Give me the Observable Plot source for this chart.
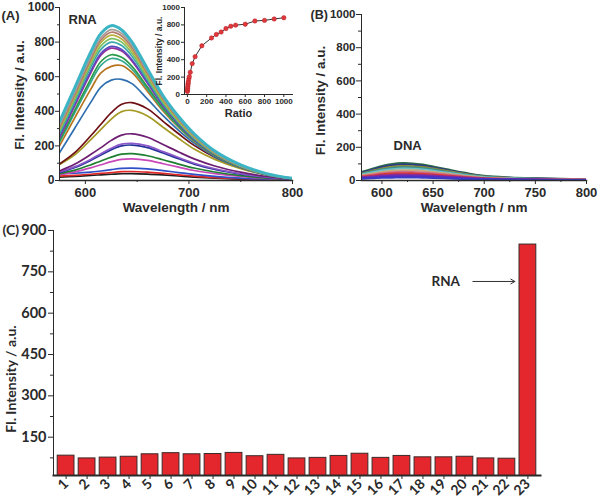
<!DOCTYPE html>
<html><head><meta charset="utf-8">
<script src="https://cdn.jsdelivr.net/npm/d3@7"></script>
<script src="https://cdn.jsdelivr.net/npm/@observablehq/plot@0.6"></script>
<style>
html,body{margin:0;padding:0;background:#fff;}
#fig{position:relative;width:600px;height:503px;overflow:hidden;background:#fff;}
#fig svg{position:absolute;}
</style></head><body><div id="fig"></div>
<script>
// ---------- Panel A: RNA titration spectra ----------
const wavelengthsA = [575, 590, 605, 615, 625, 635, 645, 660, 675, 690, 705, 725, 750, 775, 800];
const rnaSpectra = [
  [340, 540, 740, 850, 895, 870, 800, 645, 490, 370, 270, 170, 90, 40, 12],
  [320, 515, 715, 825, 872, 850, 780, 630, 480, 360, 262, 165, 87, 38, 12],
  [305, 500, 700, 812, 857, 835, 768, 620, 472, 354, 258, 162, 85, 37, 11],
  [295, 490, 688, 798, 840, 818, 752, 608, 463, 347, 253, 159, 83, 36, 11],
  [285, 475, 670, 778, 820, 800, 735, 594, 453, 340, 248, 156, 82, 36, 11],
  [270, 460, 652, 758, 800, 780, 718, 581, 444, 334, 244, 154, 81, 35, 11],
  [255, 445, 630, 735, 775, 757, 698, 567, 435, 328, 240, 152, 80, 35, 11],
  [245, 435, 620, 725, 765, 748, 690, 562, 432, 326, 238, 151, 80, 35, 11],
  [230, 410, 585, 688, 727, 712, 660, 540, 418, 317, 233, 148, 78, 34, 10],
  [220, 395, 565, 665, 705, 692, 643, 528, 410, 312, 230, 146, 77, 34, 10],
  [200, 365, 525, 622, 660, 665, 625, 515, 402, 307, 227, 144, 76, 33, 10],
  [160, 305, 450, 540, 580, 585, 560, 470, 375, 290, 216, 138, 74, 32, 10],
  [95, 162, 257, 325, 392, 441, 450, 414, 342, 270, 203, 135, 77, 36, 13],
  [92, 150, 235, 295, 355, 398, 405, 373, 308, 243, 182, 122, 69, 32, 12],
  [55, 95, 150, 190, 232, 262, 270, 250, 208, 165, 125, 84, 48, 23, 9],
  [50, 80, 122, 155, 187, 210, 215, 200, 167, 133, 100, 68, 39, 19, 7],
  [45, 75, 116, 147, 178, 200, 205, 190, 159, 126, 95, 64, 37, 18, 7],
  [40, 60, 90, 113, 135, 152, 155, 143, 120, 95, 72, 49, 28, 14, 6],
  [35, 50, 73, 91, 109, 122, 125, 116, 97, 77, 58, 40, 23, 11, 5],
  [40, 42, 48, 55, 63, 70, 72, 67, 57, 46, 35, 24, 14, 7, 3],
  [25, 30, 36, 41, 46, 51, 52, 48, 41, 33, 25, 17, 10, 5, 2],
  [20, 24, 29, 33, 36, 39, 40, 37, 32, 26, 20, 14, 8, 4, 2]
];
const rnaColors = ["#3cb4c4", "#a89c98", "#b07a6c", "#bcae3c", "#7cc060", "#3aa8a8", "#5a4cc0",
  "#9a2f9a", "#2a9a48", "#36a88e", "#b8741e", "#2f6fb0", "#6e0f14", "#a59a24", "#6e1e72",
  "#8a58c8", "#24339a", "#1f7f30", "#c848b8", "#3050c8", "#e02828", "#1e1e1e"];
const aXTicks = [600, 700, 800];
const aXMinor = [650, 750];
const aYTicks = [0, 200, 400, 600, 800, 1000];
const aYMinor = [100, 300, 500, 700, 900];

// ---------- Inset: intensity vs ratio ----------
const ratios = [0, 1, 2, 4, 6, 8, 10, 15, 20, 30, 50, 80, 150, 250, 300, 350, 400, 450, 500, 600, 700, 800, 900, 1000];
const ratioIntensity = [35, 50, 70, 90, 110, 130, 150, 180, 205, 255, 355, 435, 560, 650, 690, 718, 758, 785, 797, 808, 845, 852, 868, 882];
const insetTicks = [0, 200, 400, 600, 800, 1000];

// ---------- Panel B: DNA spectra ----------
const wavelengthsB = [580, 590, 600, 610, 620, 630, 640, 650, 665, 680, 700, 725, 750, 775, 800];
const dnaSpectra = [
  [52, 70, 88, 100, 105, 103, 96, 85, 66, 48, 28, 18, 13, 10, 8],
  [48, 64, 81, 92, 97, 95, 89, 79, 61, 44, 26, 16, 12, 9, 7],
  [43, 58, 73, 83, 88, 86, 81, 72, 56, 40, 24, 15, 11, 8, 7],
  [40, 53, 67, 76, 80, 79, 74, 66, 51, 37, 22, 14, 10, 8, 6],
  [36, 48, 60, 68, 72, 71, 67, 59, 46, 33, 20, 13, 9, 7, 6],
  [31, 41, 52, 59, 62, 61, 58, 51, 40, 29, 17, 11, 8, 6, 5],
  [27, 35, 44, 50, 52, 51, 48, 43, 34, 25, 15, 10, 7, 6, 5],
  [23, 30, 37, 42, 44, 43, 41, 36, 29, 21, 13, 9, 7, 5, 4],
  [20, 25, 31, 34, 36, 35, 33, 30, 24, 18, 11, 8, 6, 5, 4],
  [17, 21, 26, 29, 30, 29, 28, 25, 20, 15, 10, 7, 5, 4, 3],
  [14, 17, 21, 23, 24, 23, 22, 20, 16, 12, 8, 6, 4, 3, 3],
  [11, 13, 16, 17, 18, 18, 17, 15, 12, 9, 6, 5, 4, 3, 3]
];
const dnaColors = ["#2d6b45", "#2a3c8a", "#8c8a36", "#3a8f8a", "#6cc0c8", "#c8a878",
  "#d06a8a", "#d83a30", "#9a2a8a", "#6a30b0", "#5a28c0", "#3a3ac8"];
const bXTicks = [600, 650, 700, 750, 800];
const bXMinor = [625, 675, 725, 775];
const bYTicks = [0, 200, 400, 600, 800, 1000];
const bYMinor = [100, 300, 500, 700, 900];

// ---------- Panel C: selectivity bars ----------
const sampleLabels = ["1","2","3","4","5","6","7","8","9","10","11","12","13","14","15","16","17","18","19","20","21","22","23"];
const sampleIntensity = [83, 73, 76, 79, 88, 92, 88, 89, 93, 81, 86, 73, 75, 82, 90, 75, 82, 77, 77, 79, 73, 72, 849];
const cYTicks = [150, 300, 450, 600, 750, 900];
const cYMinor = [75, 225, 375, 525, 675, 825];

// ---------- build ----------
const fig = document.getElementById("fig");
const arial = "'Liberation Sans', Arial, sans-serif";
const lato = "Lato, 'Open Sans', sans-serif";
const ink = "#2a2a2a";
function place(svg, left, top) {
  svg.style.position = "absolute";
  svg.style.left = left + "px";
  svg.style.top = top + "px";
  svg.style.background = "transparent";
  svg.style.overflow = "visible";
  svg.style.maxWidth = "none";
  fig.appendChild(svg);
}
const noText = () => "";
const plain = d => String(d);

// Panel A
const tidyA = rnaSpectra.flatMap((vals, i) => vals.map((v, j) => ({curve: i, wl: wavelengthsA[j], v, color: rnaColors[i]})));
const A = Plot.plot({
  width: 300, height: 215, marginLeft: 59, marginRight: 8, marginTop: 7, marginBottom: 35,
  x: {domain: [575, 800], label: null},
  y: {domain: [0, 1000], label: null},
  color: {type: "identity"},
  style: {fontFamily: arial, fontWeight: "bold", fontSize: "12px", color: ink},
  marks: [
    Plot.line(tidyA.filter(d => d.curve > 0).reverse(), {x: "wl", y: "v", z: "curve", stroke: "color", strokeWidth: 1.7, curve: "catmull-rom", clip: true}),
    Plot.line(tidyA.filter(d => d.curve === 0), {x: "wl", y: "v", z: "curve", stroke: "color", strokeWidth: 3, curve: "catmull-rom", clip: true}),
    Plot.frame({anchor: "left", stroke: ink}),
    Plot.frame({anchor: "bottom", stroke: ink, strokeWidth: 1.5}),
    Plot.axisY({ticks: aYTicks, tickSize: 4, tickPadding: 1, fontSize: 12, tickFormat: plain, label: null}),
    Plot.axisY({ticks: aYMinor, tickSize: 2, tickFormat: noText, label: null}),
    Plot.axisX({ticks: aXTicks, tickSize: 4, tickPadding: 3, fontSize: 13, tickFormat: plain, label: null}),
    Plot.axisX({ticks: aXMinor, tickSize: 2, tickFormat: noText, label: null}),
    Plot.text(["Wavelength / nm"], {text: d => d, frameAnchor: "bottom", lineAnchor: "middle", dy: 27, fontSize: 13.5}),
    Plot.text(["Fl. Intensity / a.u."], {text: d => d, frameAnchor: "left", textAnchor: "middle", lineAnchor: "middle", rotate: -90, dx: -40, dy: 1, fontSize: 13.5}),
    Plot.text(["(A)"], {text: d => d, frameAnchor: "top-left", lineAnchor: "middle", dx: -58, dy: 8, textAnchor: "start", fontSize: 13}),
    Plot.text(["RNA"], {text: d => d, frameAnchor: "top-left", lineAnchor: "middle", dx: 9, dy: 12, textAnchor: "start", fontSize: 13})
  ]
});
place(A, 0, 0);

// Inset
const insetData = ratios.map((r, i) => ({r, v: ratioIntensity[i]}));
const inset = Plot.plot({
  width: 145, height: 118, marginLeft: 29, marginRight: 8, marginTop: 7, marginBottom: 24,
  x: {domain: [-30, 1090], label: null},
  y: {domain: [0, 1000], label: null},
  style: {fontFamily: arial, fontWeight: "bold", fontSize: "8px", color: ink},
  marks: [
    Plot.frame({anchor: "left", stroke: ink}),
    Plot.frame({anchor: "bottom", stroke: ink}),
    Plot.axisY({ticks: insetTicks, tickSize: 3, tickPadding: 1.5, fontSize: 8, tickFormat: plain, label: null}),
    Plot.axisX({ticks: insetTicks, tickSize: 3, tickPadding: 1, fontSize: 8, tickFormat: plain, label: null}),
    Plot.line(insetData, {x: "r", y: "v", stroke: "#333", strokeWidth: 1}),
    Plot.dot(insetData, {x: "r", y: "v", r: 2.2, fill: "#e0383c", stroke: "#b32025", strokeWidth: 0.5}),
    Plot.text(["Ratio"], {text: d => d, frameAnchor: "bottom", lineAnchor: "middle", dy: 18.5, fontSize: 11}),
    Plot.text(["Fl. Intensity / a.u."], {text: d => d, frameAnchor: "left", textAnchor: "middle", lineAnchor: "middle", rotate: -90, dx: -25, fontSize: 8.5})
  ]
});
place(inset, 155, 0);

// Panel B
const tidyB = dnaSpectra.flatMap((vals, i) => vals.map((v, j) => ({curve: i, wl: wavelengthsB[j], v, color: dnaColors[i]})));
const B = Plot.plot({
  width: 300, height: 215, marginLeft: 61, marginRight: 14, marginTop: 14, marginBottom: 35,
  x: {domain: [580, 800], label: null},
  y: {domain: [0, 1000], label: null},
  color: {type: "identity"},
  style: {fontFamily: arial, fontWeight: "bold", fontSize: "11.5px", color: ink},
  marks: [
    Plot.line(tidyB, {x: "wl", y: "v", z: "curve", stroke: "color", strokeWidth: 2, curve: "catmull-rom", clip: true}),
    Plot.frame({anchor: "left", stroke: ink}),
    Plot.frame({anchor: "bottom", stroke: ink, strokeWidth: 1.5}),
    Plot.axisY({ticks: bYTicks, tickSize: 5, tickPadding: 1, fontSize: 11.5, tickFormat: plain, label: null}),
    Plot.axisY({ticks: bYMinor, tickSize: 3, tickFormat: noText, label: null}),
    Plot.axisX({ticks: bXTicks, tickSize: 4, tickPadding: 3, fontSize: 13, tickFormat: plain, label: null}),
    Plot.axisX({ticks: bXMinor, tickSize: 2, tickFormat: noText, label: null}),
    Plot.text(["Wavelength / nm"], {text: d => d, frameAnchor: "bottom", lineAnchor: "middle", dy: 27, fontSize: 13.5}),
    Plot.text(["Fl. Intensity / a.u."], {text: d => d, frameAnchor: "left", textAnchor: "middle", lineAnchor: "middle", rotate: -90, dx: -41, dy: 3, fontSize: 13.5}),
    Plot.text(["(B)"], {text: d => d, frameAnchor: "top-left", lineAnchor: "middle", dx: -51, dy: 0, textAnchor: "start", fontSize: 12.5}),
    Plot.text(["DNA"], {text: d => d, frameAnchor: "top-left", lineAnchor: "middle", dx: 32, dy: 131, textAnchor: "start", fontSize: 13})
  ]
});
place(B, 300, 0);

// Panel C
const cData = sampleLabels.map((s, i) => ({s, v: sampleIntensity[i]}));
const C = Plot.plot({
  width: 600, height: 288, marginLeft: 53, marginRight: 60, marginTop: 15, marginBottom: 28,
  x: {domain: sampleLabels, padding: 0.2, round: false, label: null},
  y: {domain: [11, 900], label: null},
  style: {fontFamily: lato, fontWeight: "bold", fontSize: "14px", color: ink},
  marks: [
    Plot.barY(cData, {x: "s", y: "v", fill: "#e4262d", stroke: "#3b2a2a", strokeWidth: 1, clip: true}),
    Plot.frame({anchor: "left", stroke: ink}),
    Plot.frame({anchor: "bottom", stroke: ink, strokeWidth: 2}),
    Plot.axisY({ticks: cYTicks, tickSize: 5, tickPadding: 2, fontSize: 14.5, tickFormat: plain, label: null}),
    Plot.axisY({ticks: cYMinor, tickSize: 3, tickFormat: noText, label: null}),
    Plot.axisX({tickSize: 4, tickPadding: 2, tickRotate: -45, fontSize: 14, label: null}),
    Plot.text(["Fl. Intensity / a.u."], {text: d => d, frameAnchor: "left", textAnchor: "middle", lineAnchor: "middle", rotate: -90, dx: -42, dy: 26, fontSize: 14}),
    Plot.text(["(C)"], {text: d => d, frameAnchor: "top-left", lineAnchor: "middle", dx: -51, dy: 0, textAnchor: "start", fontSize: 14}),
    Plot.text(["RNA"], {text: d => d, x: () => sampleLabels[19], y: 715, textAnchor: "end", dx: -5, fontSize: 13.5}),
    Plot.arrow([0], {x1: () => sampleLabels[20], y1: 715, x2: () => sampleLabels[22], y2: 715, dx: -13, stroke: "#333", strokeWidth: 1, headLength: 7, bend: 0})
  ]
});
place(C, 0, 215);
</script></body></html>
